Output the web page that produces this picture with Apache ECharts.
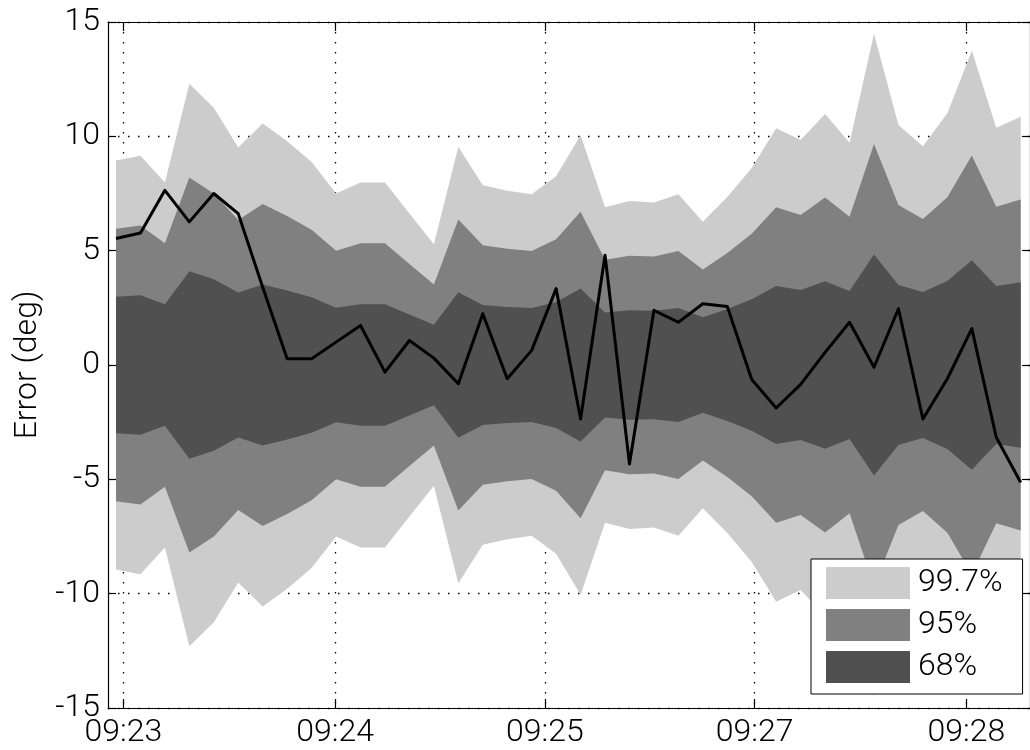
<!DOCTYPE html>
<html>
<head>
<meta charset="utf-8">
<script src="https://cdn.jsdelivr.net/npm/echarts@6/dist/echarts.min.js"></script>
<style>
  html, body { margin: 0; padding: 0; background: #ffffff; }
  #chart { width: 1030px; height: 750px; }
</style>
</head>
<body>
<div id="chart"></div>
<script>
// Heading error per sample (deg), one sample every few seconds
const errorDeg = [
  5.53, 5.77, 7.64, 6.26, 7.50, 6.62, 3.40, 0.27, 0.27, 1.00,
  1.73, -0.31, 1.07, 0.30, -0.82, 2.24, -0.60, 0.64, 3.34, -2.36,
  4.80, -4.33, 2.39, 1.87, 2.68, 2.56, -0.63, -1.88, -0.85, 0.55,
  1.87, -0.10, 2.46, -2.36, -0.60, 1.59, -3.16, -5.14
];

// Estimated standard deviation of the error per sample (deg)
const sigmaDeg = [
  2.98, 3.05, 2.66, 4.10, 3.75, 3.17, 3.52, 3.26, 2.96, 2.50,
  2.66, 2.66, 2.21, 1.76, 3.18, 2.62, 2.54, 2.49, 2.75, 3.35,
  2.30, 2.39, 2.37, 2.49, 2.09, 2.45, 2.87, 3.45, 3.28, 3.66,
  3.24, 4.83, 3.50, 3.19, 3.67, 4.58, 3.46, 3.62
];

// Confidence bands: name, half-width in sigmas, fill
const bandNames = ['99.7%', '95%', '68%'];
const bandSigmas = [3, 2, 1];
const bandColors = ['#cccccc', '#808080', '#505050'];

// Time axis ticks (in sample units) and their labels
const timeTickPos = [0.298, 8.959, 17.538, 26.117, 34.778];
const timeTickLabels = ['09:23', '09:24', '09:25', '09:27', '09:28'];

const FONT = "Roboto, 'Liberation Sans', Arial, sans-serif";
const FONT_WEIGHT = 300;

const toPoints = arr => arr.map((v, i) => [i, v]);

// Each band is one closed polygon: upper edge left-to-right, lower edge back
function bandSeries(name, k, color) {
  return {
    type: 'custom',
    name: name,
    data: toPoints(sigmaDeg),
    silent: true,
    clip: true,
    itemStyle: { color: color },
    z: 2,
    renderItem: (params, api) => {
      if (params.dataIndex !== 0) return null;
      const upper = sigmaDeg.map((s, i) => api.coord([i, s * k]));
      const lower = sigmaDeg.map((s, i) => api.coord([i, -s * k])).reverse();
      return {
        type: 'polygon',
        shape: { points: upper.concat(lower) },
        style: { fill: color, stroke: null }
      };
    }
  };
}

const bands = bandNames.map((n, j) => bandSeries(n, bandSigmas[j], bandColors[j]));

const errorSeries = {
  type: 'line',
  name: 'Error',
  data: toPoints(errorDeg),
  symbol: 'none',
  silent: true,
  lineStyle: { color: '#000000', width: 3, join: 'round' },
  itemStyle: { color: '#000000' },
  z: 3
};

const dotted = { type: [1.5, 8.5], color: '#000000', width: 1.3 };
const xMin = -0.327, xMax = 37.38;
const axisLineStyle = { color: '#000000', width: 1.2 };
const labelText = { fontSize: 32, color: '#000000', fontFamily: FONT, fontWeight: FONT_WEIGHT };

const option = {
  animation: false,
  backgroundColor: '#ffffff',
  grid: { left: 108, top: 22, width: 923, height: 686 },
  legend: {
    data: bandNames,
    orient: 'vertical',
    left: 811,
    top: 559,
    icon: 'rect',
    itemWidth: 84,
    itemHeight: 32,
    itemGap: 10,
    padding: [8, 20, 11, 15],
    backgroundColor: '#ffffff',
    borderColor: '#000000',
    borderWidth: 1,
    borderRadius: 0,
    selectedMode: false,
    textStyle: Object.assign({ padding: [0, 0, 0, 3] }, labelText)
  },
  xAxis: [
    {
      type: 'value',
      position: 'bottom',
      min: xMin,
      max: xMax,
      axisLine: { show: true, onZero: false, lineStyle: axisLineStyle },
      axisTick: { show: true, inside: true, length: 9, customValues: timeTickPos, lineStyle: axisLineStyle },
      axisLabel: Object.assign({
        customValues: timeTickPos,
        formatter: v => timeTickLabels[timeTickPos.indexOf(v)] ?? '',
        margin: 9
      }, labelText),
      splitLine: { show: true, lineStyle: dotted }
    },
    {
      type: 'value',
      position: 'top',
      min: xMin,
      max: xMax,
      axisLine: { show: true, onZero: false, lineStyle: axisLineStyle },
      axisTick: { show: true, inside: true, length: 9, customValues: timeTickPos, lineStyle: axisLineStyle },
      axisLabel: { show: false },
      splitLine: { show: false }
    }
  ],
  yAxis: [
    {
      type: 'value',
      position: 'left',
      min: -15,
      max: 15,
      interval: 5,
      name: 'Error (deg)',
      nameLocation: 'middle',
      nameGap: 64,
      nameTextStyle: labelText,
      axisLine: { show: true, onZero: false, lineStyle: axisLineStyle },
      axisTick: { show: true, inside: true, length: 8, lineStyle: axisLineStyle },
      axisLabel: Object.assign({ margin: 8 }, labelText),
      splitLine: { show: true, lineStyle: dotted }
    },
    {
      type: 'value',
      position: 'right',
      min: -15,
      max: 15,
      interval: 5,
      axisLine: { show: true, onZero: false, lineStyle: axisLineStyle },
      axisTick: { show: true, inside: true, length: 8, lineStyle: axisLineStyle },
      axisLabel: { show: false },
      splitLine: { show: false }
    }
  ],
  series: [...bands, errorSeries]
};

const chart = echarts.init(document.getElementById('chart'), null, { renderer: 'canvas' });
chart.setOption(option);
</script>
</body>
</html>
